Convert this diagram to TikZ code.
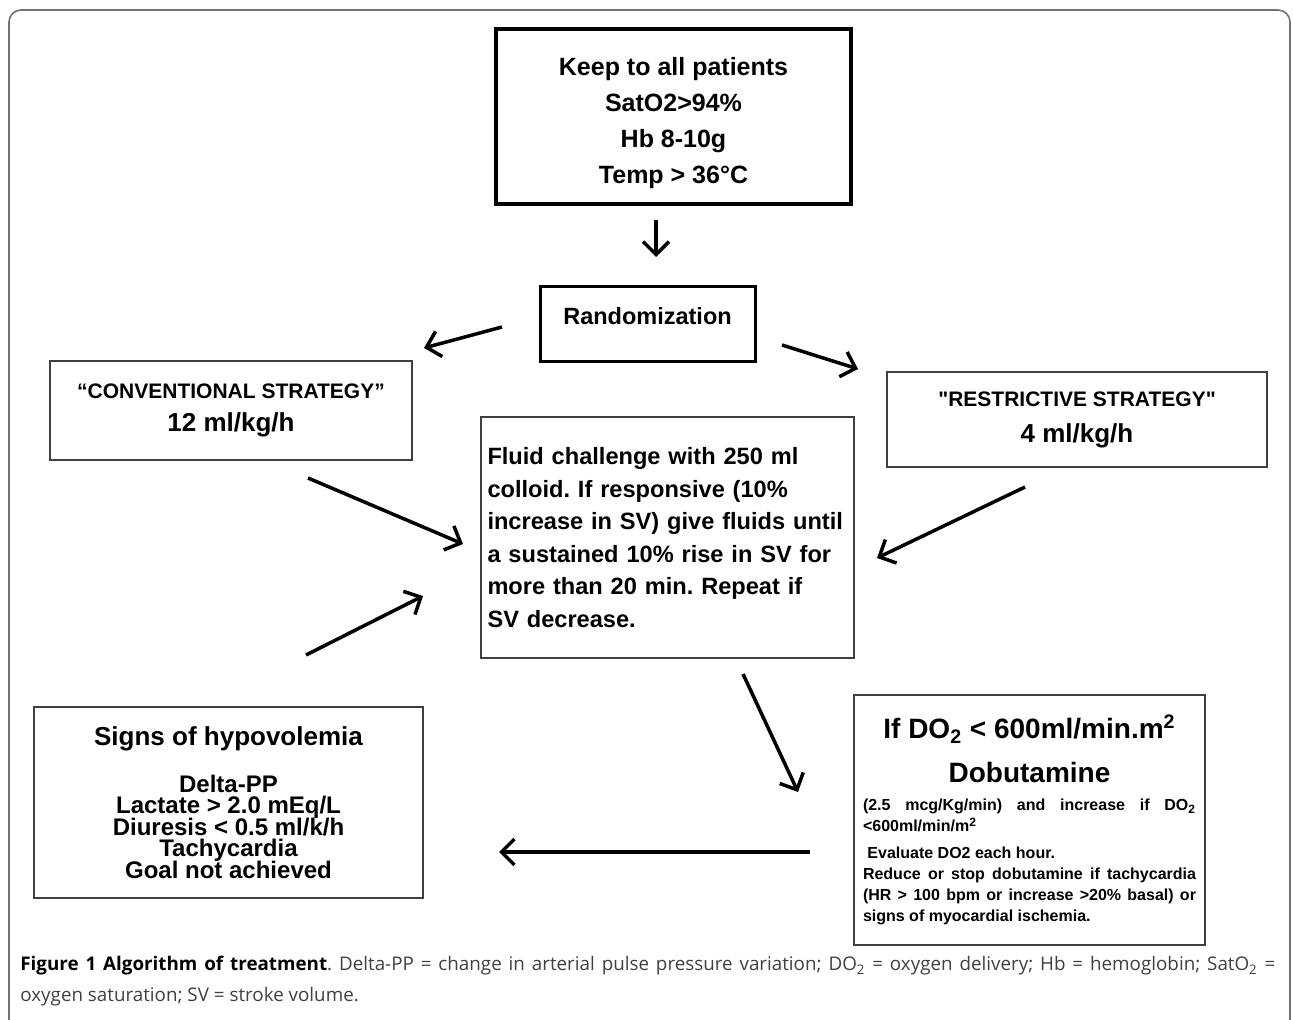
\documentclass[tikz,border=0pt]{standalone}
\usepackage{fontspec}
\setmainfont{Liberation Sans}
\newfontfamily\capfont{Open Sans}
\usetikzlibrary{arrows.meta}
\tikzset{
    box/.style = {rectangle, draw=black!75, line width=1pt, align=center, inner sep=0pt},
    boxt/.style = {rectangle, draw=black, line width=1.7pt, align=center, inner sep=0pt},
    edgen/.style = {-{Straight Barb[length=6.5pt,width=13pt]}, line width=1.75pt},
    frame/.style = {draw=black!55, line width=0.8pt, rounded corners=6pt},
    captext/.style = {inner sep=0pt, text width=627.5pt, align=justify, anchor=north west,
                      font=\capfont\fontsize{9.4}{15.5}\selectfont, text=black!75}
}
\newcommand{\fsz}[2]{\fontsize{#1}{#2}\selectfont}
\newcommand{\tightlines}{\lineskiplimit=-20pt\relax}
\setlength{\parindent}{0pt}
\frenchspacing

\begin{document}
\begin{tikzpicture}[x=0.5pt, y=-0.5pt]
\useasboundingbox (0,0) rectangle (1293,1020);
\draw[frame] (9,1030) -- (9,10) -- (1290,10) -- (1290,1030);
%
\node[boxt, minimum width=177.5pt, minimum height=87.5pt, font=\bfseries\fsz{12.5}{18}] at (673.5,116.5) (keep)
    {\\[-2pt]Keep to all patients\\SatO2>94\%\\Hb 8-10g\\Temp > 36°C};
\node[boxt, line width=1.5pt, minimum width=107.5pt, minimum height=37.5pt, font=\bfseries\fsz{11.75}{14}] at (647.5,324.5) (rand)
    {\raisebox{0pt}[0pt][0pt]{Randomization}};
\node[box, minimum width=181pt, minimum height=49.5pt, font=\bfseries\fsz{13}{16.5}] at (231,410.5) (conv)
    {{\fsz{10.5}{12}“CONVENTIONAL STRATEGY”}\\12 ml/kg/h};
\node[box, minimum width=190pt, minimum height=47.5pt, font=\bfseries\fsz{13}{18}] at (1077,419.5) (restr)
    {{\fsz{10.5}{12}\textquotedbl RESTRICTIVE STRATEGY\textquotedbl}\\4 ml/kg/h};
\node[box, minimum width=186.5pt, minimum height=120.5pt, text width=180pt, align=left, font=\bfseries\fsz{11.8}{16.3}] at (667.5,537.5) (fluid)
    {Fluid challenge with 250 ml\\colloid. If responsive (10\%\\increase in SV) give fluids until\\a sustained 10\% rise in SV for\\more than 20 min. Repeat if\\SV decrease.};
\node[box, minimum width=194.5pt, minimum height=95.5pt, font={\bfseries\fsz{12}{10.75}\tightlines}] at (228.5,802.5) (hypo)
    {{\fsz{13}{10.75}Signs of hypovolemia}\\[12.5pt]Delta-PP\\Lactate > 2.0 mEq/L\\Diuresis < 0.5 ml/k/h\\Tachycardia\\Goal not achieved};
\node[box, minimum width=175.5pt, minimum height=125pt, text width=166.5pt, align=justify, font=\bfseries] at (1029.5,820) (dobu)
    {{\centering\fsz{14}{22}If DO\textsubscript{2} < 600ml/min.m\textsuperscript{2}\par Dobutamine\par}
     \vspace{3.5pt}
     {\fsz{8}{10.5}(2.5 mcg/Kg/min) and increase if DO\textsubscript{2}\linebreak <600ml/min/m\textsuperscript{2}\par
     \vspace{3pt}
     \ Evaluate DO2 each hour.\par
     Reduce or stop dobutamine if tachycardia\linebreak (HR > 100 bpm or increase >20\% basal) or\linebreak signs of myocardial ischemia.\par}};
%
\coordinate (k1) at (656,220);   \coordinate (k2) at (656,257);
\coordinate (r1) at (502,327);   \coordinate (r2) at (424,348);
\coordinate (r3) at (782,345);   \coordinate (r4) at (858,369);
\coordinate (c1) at (308,478);   \coordinate (c2) at (463,544);
\coordinate (s1) at (1025,487);  \coordinate (s2) at (877,558);
\coordinate (h1) at (306,655);   \coordinate (h2) at (423,596);
\coordinate (f1) at (743,674);   \coordinate (f2) at (798,792);
\coordinate (d1) at (810,852);   \coordinate (d2) at (499,852);
%
\draw[edgen] (k1) -- (k2);
\draw[edgen] (r1) -- (r2);
\draw[edgen] (r3) -- (r4);
\draw[edgen] (c1) -- (c2);
\draw[edgen] (s1) -- (s2);
\draw[edgen] (h1) -- (h2);
\draw[edgen] (f1) -- (f2);
\draw[edgen] (d1) -- (d2);
%
\node[captext] at (20,956) (caption)
    {\textcolor{black}{\textbf{Figure 1 Algorithm of treatment}}. Delta-PP = change in arterial pulse pressure variation; DO\textsubscript{2} = oxygen delivery; Hb = hemoglobin; SatO\textsubscript{2} =\linebreak oxygen saturation; SV = stroke volume.};
\end{tikzpicture}
\end{document}
